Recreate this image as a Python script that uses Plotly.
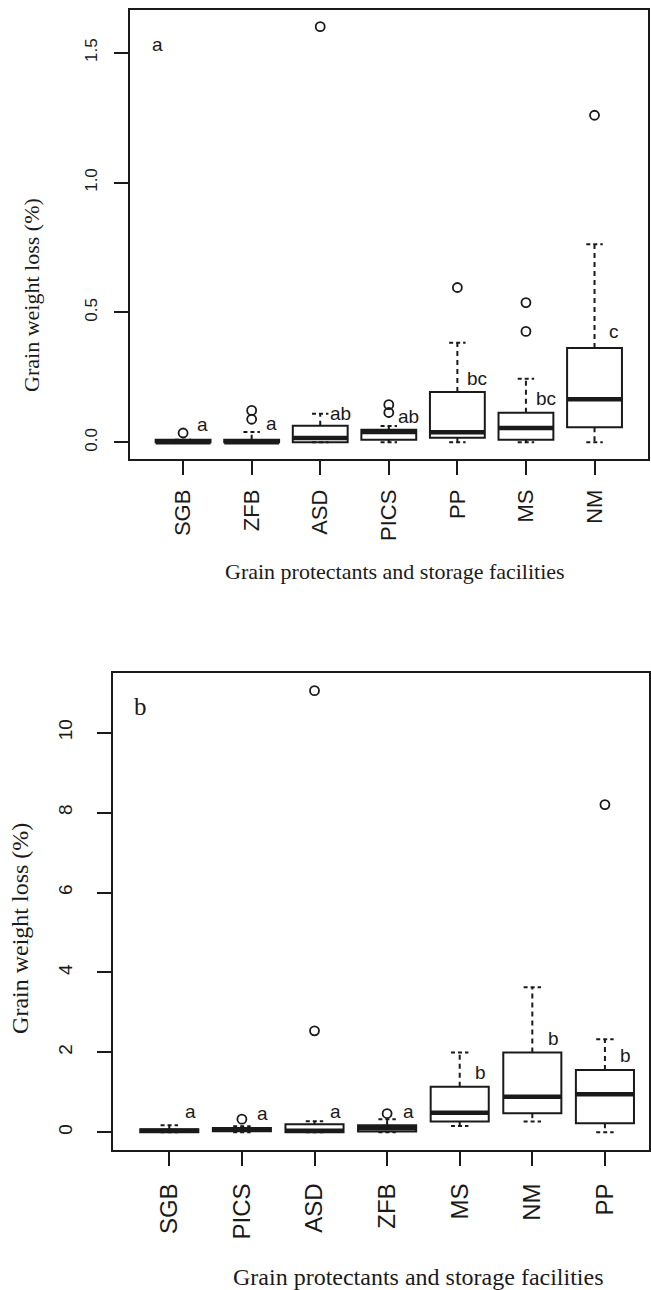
import plotly.graph_objects as go

W, H = 651, 1290

# ---------------- Panel a data ----------------
cats_a = ["SGB", "ZFB", "ASD", "PICS", "PP", "MS", "NM"]
q1_a = [0.0, 0.0, 0.0, 0.010, 0.018, 0.010, 0.058]
med_a = [0.0, 0.0, 0.017, 0.040, 0.039, 0.055, 0.166]
q3_a = [0.010, 0.010, 0.064, 0.049, 0.194, 0.114, 0.363]
lo_a = [0.0, 0.0, 0.0, 0.0, 0.0, 0.0, 0.0]
hi_a = [0.010, 0.040, 0.110, 0.063, 0.383, 0.245, 0.762]
out_cat_a = ["SGB", "ZFB", "ZFB", "ASD", "PICS", "PICS", "PP", "MS", "MS", "NM"]
out_val_a = [0.036, 0.089, 0.123, 1.600, 0.115, 0.145, 0.596, 0.427, 0.538, 1.259]
letters_a = ["a", "a", "ab", "ab", "bc", "bc", "c"]
letter_y_a = [0.069, 0.073, 0.112, 0.101, 0.247, 0.170, 0.427]
yticks_a = [0.0, 0.5, 1.0, 1.5]
yticktext_a = ["0.0", "0.5", "1.0", "1.5"]

# ---------------- Panel b data ----------------
cats_b = ["SGB", "PICS", "ASD", "ZFB", "MS", "NM", "PP"]
q1_b = [0.0, 0.03, 0.0, 0.02, 0.27, 0.48, 0.23]
med_b = [0.04, 0.07, 0.04, 0.10, 0.49, 0.89, 0.95]
q3_b = [0.08, 0.11, 0.20, 0.18, 1.14, 2.00, 1.56]
lo_b = [0.0, 0.0, 0.0, 0.0, 0.16, 0.27, 0.0]
hi_b = [0.18, 0.15, 0.28, 0.33, 2.00, 3.63, 2.33]
out_cat_b = ["PICS", "ASD", "ASD", "ZFB", "PP"]
out_val_b = [0.33, 2.54, 11.05, 0.47, 8.20]
letters_b = ["a", "a", "a", "a", "b", "b", "b"]
letter_y_b = [0.52, 0.48, 0.53, 0.51, 1.50, 2.35, 1.91]
yticks_b = [0, 2, 4, 6, 8, 10]
yticktext_b = ["0", "2", "4", "6", "8", "10"]

INK = "#1a1a1a"
SANS = "Liberation Sans"
SERIF = "Liberation Serif"

fig = go.Figure()


def r_range(vals):
    lo, hi = min(vals), max(vals)
    pad = 0.04 * (hi - lo)
    return [lo - pad, hi + pad]


def add_panel(cats, q1, med, q3, lo, hi, out_cat, out_val, letters, letter_y,
              xa, ya, fsize):
    xs = list(range(1, len(cats) + 1))
    fig.add_trace(go.Box(
        x=xs, q1=q1, median=med, q3=q3, lowerfence=q1, upperfence=q3,
        width=0.8, whiskerwidth=0, fillcolor="white", boxpoints=False,
        line=dict(color=INK, width=2), xaxis=xa, yaxis=ya,
        showlegend=False, hoverinfo="skip"))
    # thick medians
    mx, my = [], []
    for x, m in zip(xs, med):
        mx += [x - 0.4, x + 0.4, None]
        my += [m, m, None]
    fig.add_trace(go.Scatter(x=mx, y=my, mode="lines",
                             line=dict(color=INK, width=4.5),
                             xaxis=xa, yaxis=ya, showlegend=False,
                             hoverinfo="skip"))
    # dashed whiskers and staples
    wx, wy, sx, sy = [], [], [], []
    for x, a, b, c, d in zip(xs, q1, q3, lo, hi):
        wx += [x, x, None, x, x, None]
        wy += [b, d, None, a, c, None]
        sx += [x - 0.12, x + 0.12, None, x - 0.12, x + 0.12, None]
        sy += [d, d, None, c, c, None]
    fig.add_trace(go.Scatter(x=wx, y=wy, mode="lines",
                             line=dict(color=INK, width=2, dash="5px,4px"),
                             xaxis=xa, yaxis=ya, showlegend=False,
                             hoverinfo="skip"))
    fig.add_trace(go.Scatter(x=sx, y=sy, mode="lines",
                             line=dict(color=INK, width=2, dash="4px,3px"),
                             xaxis=xa, yaxis=ya, showlegend=False,
                             hoverinfo="skip"))
    # outliers
    ox = [cats.index(c) + 1 for c in out_cat]
    fig.add_trace(go.Scatter(x=ox, y=out_val, mode="markers",
                             marker=dict(symbol="circle-open", size=9,
                                         color=INK, line=dict(width=1.8)),
                             xaxis=xa, yaxis=ya, showlegend=False,
                             hoverinfo="skip"))
    # significance letters
    for x, t, y in zip(xs, letters, letter_y):
        fig.add_annotation(x=x + 0.29, y=y, xref=xa, yref=ya, text=t,
                           showarrow=False, xanchor="center", yanchor="middle",
                           font=dict(family=SANS, size=fsize, color=INK))


add_panel(cats_a, q1_a, med_a, q3_a, lo_a, hi_a, out_cat_a, out_val_a,
          letters_a, letter_y_a, "x", "y", 19)
add_panel(cats_b, q1_b, med_b, q3_b, lo_b, hi_b, out_cat_b, out_val_b,
          letters_b, letter_y_b, "x2", "y2", 19)

yr_a = r_range(lo_a + hi_a + out_val_a)
yr_b = r_range(lo_b + hi_b + out_val_b)

# panel b's frame runs past the right page edge
xb_left, xb_right_full = 113, 663.6
xb_hi = 0.22 + 7.56 * (W - xb_left) / (xb_right_full - xb_left)

axis_common = dict(showline=True, mirror=True, linecolor=INK, linewidth=1.6,
                   showgrid=False, zeroline=False, ticks="outside",
                   tickcolor=INK, tickwidth=1.5, ticklen=14)

fig.update_layout(
    width=W, height=H, margin=dict(l=0, r=0, t=0, b=0),
    paper_bgcolor="white", plot_bgcolor="white",
    xaxis=dict(domain=[130 / W, 650 / W], range=[0.22, 7.78],
               tickvals=list(range(1, 8)), ticktext=cats_a, tickangle=-90,
               tickfont=dict(family=SANS, size=22, color=INK),
               ticklabelstandoff=6, anchor="y", **axis_common),
    yaxis=dict(domain=[1 - 459 / H, 1 - 10 / H], range=yr_a,
               tickvals=yticks_a, ticktext=yticktext_a, tickangle=-90,
               tickfont=dict(family=SANS, size=17, color=INK),
               ticklabelstandoff=10, anchor="x", **axis_common),
    xaxis2=dict(domain=[xb_left / W, 1.0], range=[0.22, xb_hi],
                tickvals=list(range(1, 8)), ticktext=cats_b, tickangle=-90,
                tickfont=dict(family=SANS, size=24, color=INK),
                ticklabelstandoff=8, anchor="y2", **axis_common),
    yaxis2=dict(domain=[1 - 1150 / H, 1 - 673 / H], range=yr_b,
                tickvals=yticks_b, ticktext=yticktext_b, tickangle=-90,
                tickfont=dict(family=SANS, size=19, color=INK),
                ticklabelstandoff=17, anchor="x2", **axis_common),
)

# panel tags
fig.add_annotation(x=0.63, y=1.53, xref="x", yref="y", text="a",
                   showarrow=False, font=dict(family=SANS, size=19, color=INK))
fig.add_annotation(x=0.61, y=10.65, xref="x2", yref="y2", text="b",
                   showarrow=False, font=dict(family=SERIF, size=25, color=INK))

# axis titles
fig.add_annotation(x=32 / W, y=1 - 295 / H, xref="paper", yref="paper",
                   text="Grain weight loss (%)", textangle=-90, showarrow=False,
                   xanchor="center", yanchor="middle",
                   font=dict(family=SERIF, size=22, color=INK))
fig.add_annotation(x=396 / W, y=1 - 571 / H, xref="paper", yref="paper",
                   text="Grain protectants and storage facilities",
                   showarrow=False, xanchor="center", yanchor="middle",
                   font=dict(family=SERIF, size=22, color=INK))
fig.add_annotation(x=20 / W, y=1 - 928 / H, xref="paper", yref="paper",
                   text="Grain weight loss (%)", textangle=-90, showarrow=False,
                   xanchor="center", yanchor="middle",
                   font=dict(family=SERIF, size=24, color=INK))
fig.add_annotation(x=420 / W, y=1 - 1277 / H, xref="paper", yref="paper",
                   text="Grain protectants and storage facilities",
                   showarrow=False, xanchor="center", yanchor="middle",
                   font=dict(family=SERIF, size=24, color=INK))

fig.write_html("out.html")
